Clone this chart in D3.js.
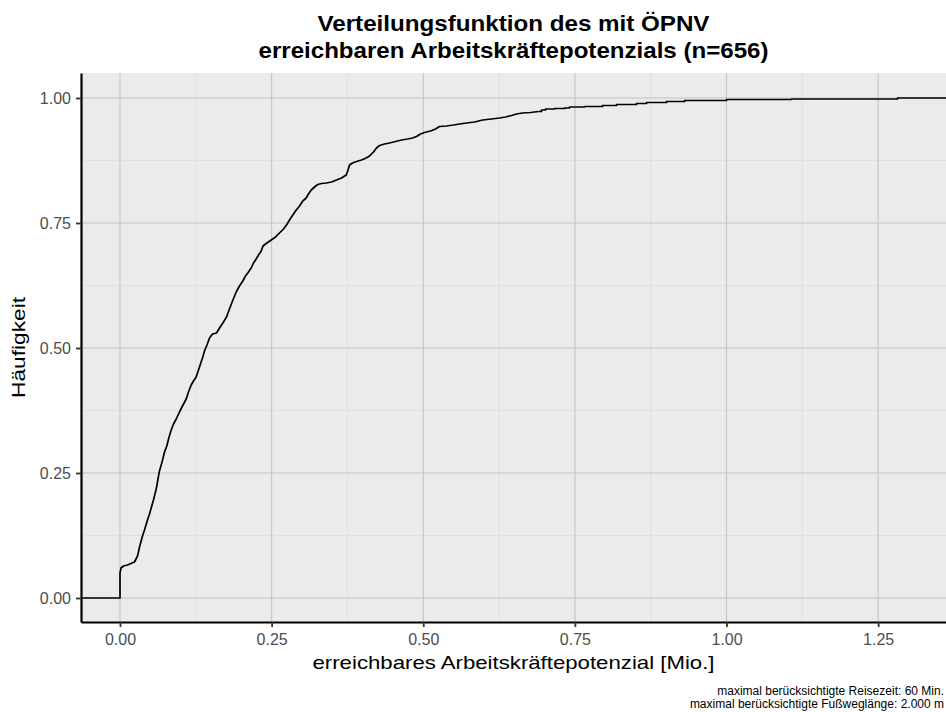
<!DOCTYPE html>
<html>
<head>
<meta charset="utf-8">
<script src="https://cdn.jsdelivr.net/npm/d3@7"></script>
<style>
  html, body { margin: 0; padding: 0; background: #ffffff; }
  svg { display: block; font-family: "Liberation Sans", Arial, sans-serif; }
</style>
</head>
<body>
<svg id="chart" width="946" height="712"></svg>
<script>
// Empirical distribution: breakpoints (potential in Mio., cumulative share)
const potenzial = [0.000, 0.0016, 0.0058, 0.0124, 0.0239, 0.0289, 0.0322, 0.0371, 0.0404, 0.0453,
  0.0486, 0.0519, 0.0552, 0.0585, 0.0607, 0.0635, 0.0651, 0.0684, 0.0706, 0.0734,
  0.0772, 0.0800, 0.0844, 0.0882, 0.0927, 0.0981, 0.1030, 0.1092, 0.1129, 0.1174,
  0.1212, 0.1256, 0.1294, 0.1327, 0.1360, 0.1393, 0.1434, 0.1476, 0.1525, 0.1591,
  0.1641, 0.1707, 0.1756, 0.1805, 0.1855, 0.1916, 0.1970, 0.2025, 0.2069, 0.2107,
  0.2163, 0.2201, 0.2246, 0.2284, 0.2328, 0.2358, 0.2399, 0.2493, 0.2564, 0.2630,
  0.2696, 0.2745, 0.2795, 0.2849, 0.2894, 0.2960, 0.3014, 0.3070, 0.3108, 0.3153,
  0.3207, 0.3262, 0.3323, 0.3405, 0.3487, 0.3570, 0.3652, 0.3730, 0.3760, 0.3784,
  0.3834, 0.3900, 0.3982, 0.4059, 0.4114, 0.4180, 0.4229, 0.4279, 0.4361, 0.4444,
  0.4543, 0.4642, 0.4740, 0.4823, 0.4889, 0.4955, 0.5021, 0.5120, 0.5202, 0.5268,
  0.5383, 0.5499, 0.5598, 0.5713, 0.5845, 0.5982, 0.6125, 0.6257, 0.6356, 0.6455,
  0.6537, 0.6636, 0.6768, 0.6900, 0.6949, 0.7016, 0.7164, 0.7329, 0.7411, 0.7659,
  0.7955, 0.8186, 0.8516, 0.8681, 0.9011, 0.9308, 1.0000, 1.1072, 1.2820];
const haeufigkeit = [0.050, 0.060, 0.064, 0.066, 0.072, 0.084, 0.102, 0.124, 0.136, 0.156,
  0.168, 0.182, 0.196, 0.212, 0.224, 0.244, 0.254, 0.268, 0.278, 0.292,
  0.304, 0.318, 0.336, 0.348, 0.358, 0.372, 0.384, 0.398, 0.412, 0.426,
  0.434, 0.442, 0.456, 0.468, 0.480, 0.494, 0.506, 0.520, 0.528, 0.530,
  0.540, 0.552, 0.562, 0.578, 0.594, 0.612, 0.624, 0.634, 0.644, 0.650,
  0.660, 0.670, 0.678, 0.686, 0.694, 0.704, 0.708, 0.716, 0.722, 0.730,
  0.738, 0.746, 0.756, 0.766, 0.774, 0.784, 0.794, 0.800, 0.808, 0.816,
  0.822, 0.827, 0.829, 0.830, 0.832, 0.836, 0.840, 0.846, 0.856, 0.866,
  0.870, 0.873, 0.876, 0.880, 0.884, 0.892, 0.900, 0.905, 0.908, 0.910,
  0.913, 0.916, 0.918, 0.920, 0.923, 0.928, 0.931, 0.934, 0.938, 0.943,
  0.944, 0.946, 0.948, 0.950, 0.952, 0.956, 0.958, 0.960, 0.962, 0.965,
  0.968, 0.970, 0.971, 0.973, 0.976, 0.978, 0.979, 0.980, 0.982, 0.983,
  0.985, 0.987, 0.989, 0.991, 0.993, 0.995, 0.997, 0.998, 1.000];

const xTicks = [0, 0.25, 0.5, 0.75, 1.0, 1.25];
const xMinor = [0.125, 0.375, 0.625, 0.875, 1.125];
const yTicks = [0, 0.25, 0.5, 0.75, 1.0];
const yMinor = [0.125, 0.375, 0.625, 0.875];

const titleLines = ["Verteilungsfunktion des mit ÖPNV", "erreichbaren Arbeitskräftepotenzials (n=656)"];
const xTitle = "erreichbares Arbeitskräftepotenzial [Mio.]";
const yTitle = "Häufigkeit";
const captionLines = ["maximal berücksichtigte Reisezeit: 60 Min.", "maximal berücksichtigte Fußweglänge: 2.000 m"];

const svg = d3.select("#chart");
const panel = { left: 81, right: 946, top: 73, bottom: 622 };

const x = d3.scaleLinear().domain([-0.0643, 1.3619]).range([panel.left, panel.right]);
const y = d3.scaleLinear().domain([-0.048, 1.05]).range([panel.bottom, panel.top]);

// panel background
svg.append("rect")
  .attr("x", panel.left).attr("y", panel.top)
  .attr("width", panel.right - panel.left).attr("height", panel.bottom - panel.top)
  .attr("fill", "#EBEBEB");

const grid = svg.append("g");
// minor grid
grid.selectAll(".xminor").data(xMinor).join("line")
  .attr("x1", d => x(d)).attr("x2", d => x(d))
  .attr("y1", panel.top).attr("y2", panel.bottom)
  .attr("stroke", "#DADADA").attr("stroke-width", 0.6);
grid.selectAll(".yminor").data(yMinor).join("line")
  .attr("y1", d => y(d)).attr("y2", d => y(d))
  .attr("x1", panel.left).attr("x2", panel.right)
  .attr("stroke", "#DADADA").attr("stroke-width", 0.6);
// major grid
grid.selectAll(".xmajor").data(xTicks).join("line")
  .attr("x1", d => x(d)).attr("x2", d => x(d))
  .attr("y1", panel.top).attr("y2", panel.bottom)
  .attr("stroke", "#C4C4C4").attr("stroke-width", 1.1);
grid.selectAll(".ymajor").data(yTicks).join("line")
  .attr("y1", d => y(d)).attr("y2", d => y(d))
  .attr("x1", panel.left).attr("x2", panel.right)
  .attr("stroke", "#C4C4C4").attr("stroke-width", 1.1);

// distribution curve, padded to the panel edges:
// dense body drawn through the breakpoints, sparse upper tail drawn as steps
const pts = [[x.domain()[0], 0], [0, 0]].concat(potenzial.map((v, i) => [v, haeufigkeit[i]]));
pts.push([x.domain()[1], 1]);
const split = pts.findIndex(d => d[0] >= 0.69);
const body = pts.slice(0, split + 1);
const tail = pts.slice(split);

const curveLine = d3.line().x(d => x(d[0])).y(d => y(d[1])).curve(d3.curveLinear);
const stepLine = d3.line().x(d => x(d[0])).y(d => y(d[1])).curve(d3.curveStepAfter);
const curveG = svg.append("g")
  .attr("fill", "none")
  .attr("stroke", "#000000")
  .attr("stroke-width", 1.7)
  .attr("stroke-linejoin", "round");
curveG.append("path").datum(body).attr("d", curveLine);
curveG.append("path").datum(tail).attr("d", stepLine);

// axes
const xAxis = svg.append("g")
  .attr("transform", `translate(0,${panel.bottom})`)
  .call(d3.axisBottom(x).tickValues(xTicks).tickFormat(d3.format(".2f")).tickSizeInner(5).tickSizeOuter(0).tickPadding(7));
const yAxis = svg.append("g")
  .attr("transform", `translate(${panel.left},0)`)
  .call(d3.axisLeft(y).tickValues(yTicks).tickFormat(d3.format(".2f")).tickSizeInner(5).tickSizeOuter(0).tickPadding(5));
[xAxis, yAxis].forEach(a => {
  a.select(".domain").attr("stroke", "#000").attr("stroke-width", 2.2);
  a.selectAll(".tick line").attr("stroke", "#333").attr("stroke-width", 1.8);
  a.selectAll(".tick text").attr("fill", "#4D4D4D").attr("font-size", 16)
    .attr("font-family", "Liberation Sans, Arial, sans-serif");
});

// titles
const cx = (panel.left + panel.right) / 2;
svg.append("text").attr("x", cx).attr("y", 31)
  .attr("text-anchor", "middle").attr("font-size", 22).attr("font-weight", "bold")
  .attr("textLength", 392).attr("lengthAdjust", "spacingAndGlyphs")
  .text(titleLines[0]);
svg.append("text").attr("x", cx).attr("y", 58)
  .attr("text-anchor", "middle").attr("font-size", 22).attr("font-weight", "bold")
  .attr("textLength", 510).attr("lengthAdjust", "spacingAndGlyphs")
  .text(titleLines[1]);

svg.append("text").attr("x", cx).attr("y", 669)
  .attr("text-anchor", "middle").attr("font-size", 19)
  .attr("textLength", 402).attr("lengthAdjust", "spacingAndGlyphs")
  .text(xTitle);

svg.append("text")
  .attr("transform", `translate(25,${(panel.top + panel.bottom) / 2}) rotate(-90)`)
  .attr("text-anchor", "middle").attr("font-size", 19)
  .attr("textLength", 101).attr("lengthAdjust", "spacingAndGlyphs")
  .text(yTitle);

svg.append("text").attr("x", 944).attr("y", 695)
  .attr("text-anchor", "end").attr("font-size", 12)
  .text(captionLines[0]);
svg.append("text").attr("x", 944).attr("y", 708)
  .attr("text-anchor", "end").attr("font-size", 12)
  .text(captionLines[1]);
</script>
</body>
</html>
